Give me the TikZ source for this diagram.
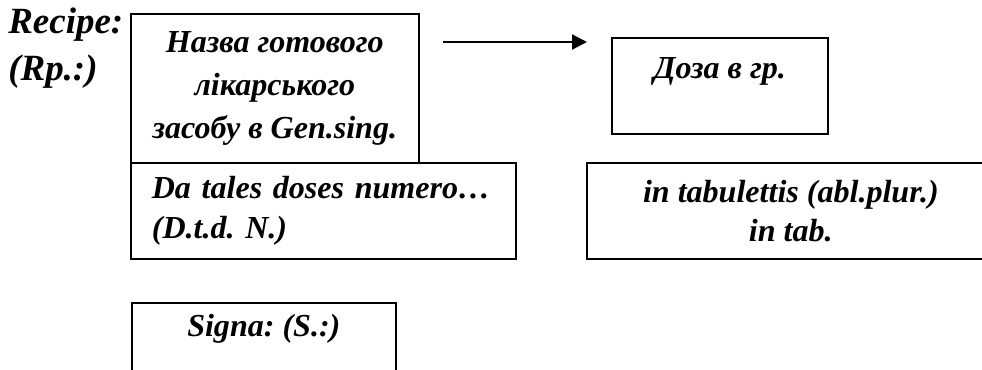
\documentclass[tikz,border=0pt]{standalone}
\usepackage{fontspec}
\setmainfont{Liberation Serif}
\usetikzlibrary{arrows.meta,positioning}
\frenchspacing
\tikzset{
  recfont/.style={font=\bfseries\itshape\fontsize{22.8pt}{28pt}\selectfont},
  recbox/.style={recfont,draw,line width=1.2pt,inner sep=0pt,align=center},
}

\begin{document}
\begin{tikzpicture}
\useasboundingbox (0,0) rectangle (24.55,9.225);
\node[anchor=base west,inner sep=0pt,align=left,font=\bfseries\itshape\fontsize{26.3pt}{33.4pt}\selectfont] (rp) at (0.2,7.225) {Recipe:\\(Rp.:)};
\node[recbox,anchor=north west,minimum width=7.2cm,minimum height=3.725cm,font=\bfseries\itshape\fontsize{22.8pt}{30.6pt}\selectfont] (nazva) at (3.25,8.9) {Назва готового\\лікарського\\засобу в Gen.sing.};
\node[recbox,anchor=north west,align=left,text width=8.575cm,inner xsep=0.525cm,minimum height=2.4cm] (dtd) at (3.25,5.175) {Da tales doses numero…\\(D.t.d. N.)};
\node[recbox,anchor=north west,minimum width=5.4cm,text height=1.025cm,text depth=1.375cm] (doza) at (15.275,8.3) {Доза в гр.};
\node[recbox,anchor=north west,minimum width=10.2cm,minimum height=2.4cm] (tab) at (14.65,5.175) {in tabulettis (abl.plur.)\\in tab.};
\node[recbox,anchor=north west,minimum width=6.6cm,text height=0.85cm,text depth=1.55cm] (signa) at (3.275,1.675) {Signa: (S.:)};
\coordinate (arrA) at (11.075,8.175);
\coordinate (arrB) at (14.675,8.175);
\draw[line width=1.6pt,-{Triangle[length=0.375cm,width=0.375cm]}] (arrA) -- (arrB);
\end{tikzpicture}
\end{document}
